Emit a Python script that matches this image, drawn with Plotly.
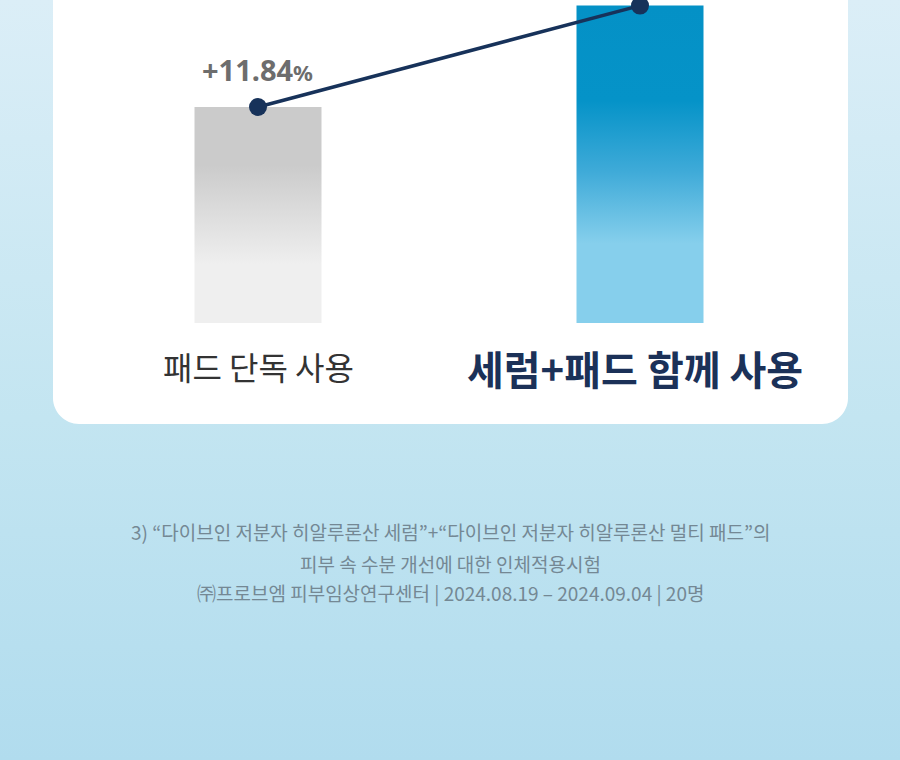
import base64
import plotly.graph_objects as go

# ---------------- data ----------------
categories = ["패드 단독 사용", "세럼+패드 함께 사용"]
values = [11.84, 17.4]
value_labels = ["+11.84", None]
footnote_lines = [
    "3) “다이브인 저분자 히알루론산 세럼”+“다이브인 저분자 히알루론산 멀티 패드”의",
    "피부 속 수분 개선에 대한 인체적용시험",
    "㈜프로브엠 피부임상연구센터 | 2024.08.19 – 2024.09.04 | 20명",
]

# ---------------- layout geometry (pixels) ----------------
W, H = 900, 760
BASE_PX = 323          # pixel row of bar baseline
PX_PER_UNIT = 216 / 11.84
X0_PX, X_STEP_PX = 258, 382
BAR_W_PX = 127

x_range = [-X0_PX / X_STEP_PX, (W - X0_PX) / X_STEP_PX]
y_range = [-(H - BASE_PX) / PX_PER_UNIT, BASE_PX / PX_PER_UNIT]
bar_w = BAR_W_PX / X_STEP_PX


def px(x):
    return x / W


def py(y):
    return 1 - y / H


NAVY = "#17325a"
gradients = [
    [[0, "#efefef"], [0.27, "#efefef"], [0.73, "#cbcbcb"], [1, "#cbcbcb"]],
    [[0, "#86cfec"], [0.25, "#86cfec"], [0.48, "#3eaad8"], [0.70, "#0593c8"], [1, "#0491c6"]],
]

fig = go.Figure()

# bars with vertical gradient fill
for i, (cat, v) in enumerate(zip(categories, values)):
    fig.add_trace(go.Scatter(
        x=[i - bar_w / 2, i + bar_w / 2, i + bar_w / 2, i - bar_w / 2, i - bar_w / 2],
        y=[0, 0, v, v, 0],
        mode="lines", line=dict(width=0),
        fill="toself",
        fillgradient=dict(type="vertical", colorscale=gradients[i]),
        hoverinfo="skip", showlegend=False,
    ))

# connecting line with markers
fig.add_trace(go.Scatter(
    x=list(range(len(values))), y=values,
    mode="lines+markers",
    line=dict(color=NAVY, width=3.5),
    marker=dict(size=18, color=NAVY),
    showlegend=False, hoverinfo="skip",
))

annotations = []
# value labels
for i, lab in enumerate(value_labels):
    if lab:
        annotations.append(dict(
            x=i, y=values[i], xref="x", yref="y",
            text=f"<b>{lab}</b><span style='font-size:22px'><b>%</b></span>",
            showarrow=False, yanchor="middle", yshift=38, xshift=-1,
            font=dict(family="Noto Sans, Noto Sans CJK KR", size=29, color="#6d6d6d"),
        ))

# category labels
cat_styles = [
    dict(size=32, color="#333333", bold=False, shift=-43, xshift=0),
    dict(size=40, color="#1b3158", bold=True, shift=-45, xshift=-5),
]
for i, cat in enumerate(categories):
    st = cat_styles[i]
    annotations.append(dict(
        x=i, y=0, xref="x", yref="y",
        text=f"<b>{cat}</b>" if st["bold"] else cat,
        showarrow=False, yanchor="middle", yshift=st["shift"], xshift=st["xshift"],
        font=dict(family="Noto Sans CJK KR", size=st["size"], color=st["color"]),
    ))

# footnote
for line, yc in zip(footnote_lines, [531, 563, 593]):
    annotations.append(dict(
        x=0.5, y=py(yc), xref="paper", yref="paper",
        text=line, showarrow=False, xanchor="center", yanchor="middle",
        font=dict(family="Noto Sans CJK KR", size=19, color="#748894"),
    ))

# background gradient image
svg = (
    f'<svg xmlns="http://www.w3.org/2000/svg" width="{W}" height="{H}" preserveAspectRatio="none">'
    '<defs><linearGradient id="g" x1="0" y1="0" x2="0" y2="1">'
    '<stop offset="0" stop-color="#dbeef7"/><stop offset="0.55" stop-color="#c3e5f1"/>'
    '<stop offset="1" stop-color="#b1dcee"/></linearGradient></defs>'
    f'<rect width="{W}" height="{H}" fill="url(#g)"/></svg>'
)
src = "data:image/svg+xml;base64," + base64.b64encode(svg.encode()).decode()

# white rounded card
L, R, T, B, r = 53, 848, -40, 424, 26
k = 0.45
card_path = (
    f"M {px(L)},{py(T)} L {px(R)},{py(T)} L {px(R)},{py(B - r)} "
    f"C {px(R)},{py(B - r * k)} {px(R - r * k)},{py(B)} {px(R - r)},{py(B)} "
    f"L {px(L + r)},{py(B)} "
    f"C {px(L + r * k)},{py(B)} {px(L)},{py(B - r * k)} {px(L)},{py(B - r)} Z"
)

fig.update_layout(
    width=W, height=H,
    margin=dict(l=0, r=0, t=0, b=0),
    paper_bgcolor="#c6e6f2",
    plot_bgcolor="rgba(0,0,0,0)",
    xaxis=dict(range=x_range, visible=False, fixedrange=True),
    yaxis=dict(range=y_range, visible=False, fixedrange=True),
    images=[dict(source=src, xref="paper", yref="paper", x=0, y=1, sizex=1, sizey=1,
                 xanchor="left", yanchor="top", sizing="stretch", layer="below")],
    shapes=[dict(type="path", path=card_path, xref="paper", yref="paper",
                 fillcolor="white", line=dict(width=0), layer="below")],
    annotations=annotations,
    showlegend=False,
)

fig.write_html("out.html")
